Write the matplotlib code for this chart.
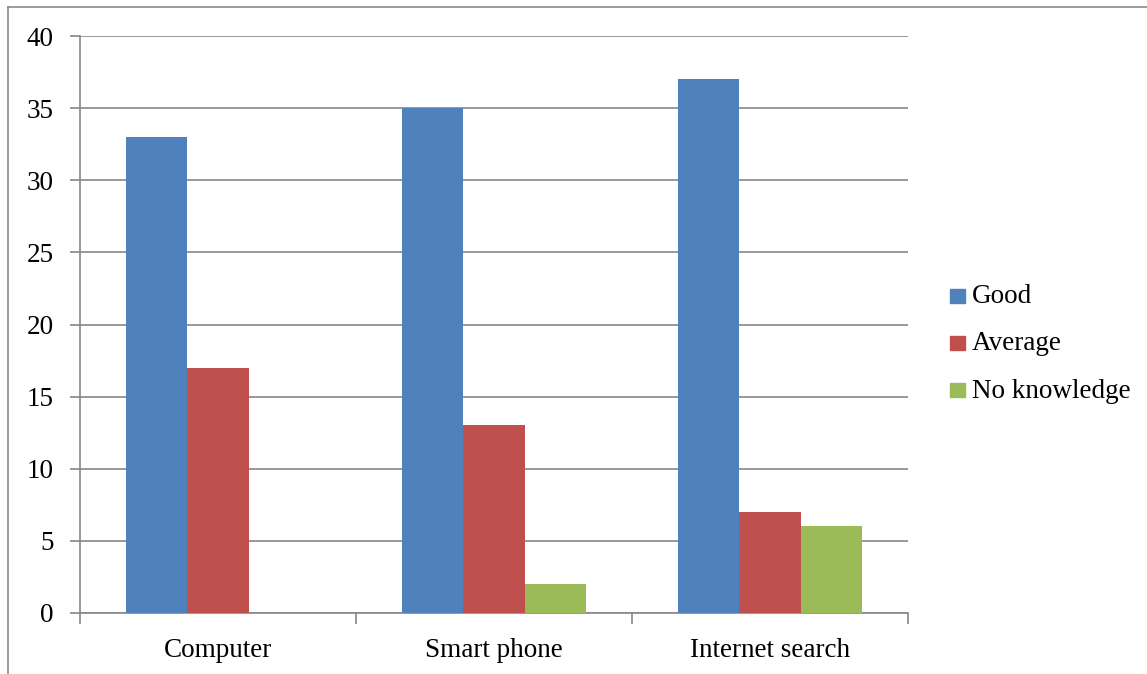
import matplotlib
matplotlib.use("Agg")
import matplotlib.pyplot as plt
from matplotlib.lines import Line2D
from matplotlib.patches import Rectangle
import numpy as np

categories = ["Computer", "Smart phone", "Internet search"]
series_names = ["Good", "Average", "No knowledge"]
good = [33, 35, 37]
average = [17, 13, 7]
no_knowledge = [0, 2, 6]
colors = ["#4F81BD", "#C0504D", "#9BBB59"]

plt.rcParams["font.family"] = ["Liberation Serif", "DejaVu Serif"]

fig = plt.figure(figsize=(11.47, 6.74), dpi=100)
W, H = 1147, 674
ax = fig.add_axes([80 / W, 1 - 613 / H, (908 - 80) / W, (613 - 36) / H])

grid_col = "#878787"
fs = 19.5
n = len(series_names)
bw = 1 / (n + 1.5)
x = np.arange(len(categories))
for i, (vals, name) in enumerate(zip([good, average, no_knowledge], series_names)):
    offs = (i - (n - 1) / 2) * bw
    ax.bar(x + offs, vals, width=bw, color=colors[i], label=name, zorder=3,
           linewidth=0)

ax.set_xlim(-0.5, len(categories) - 0.5)
ax.set_ylim(0, 40)
ax.set_yticks(range(0, 41, 5))
ax.yaxis.grid(True, color=grid_col, linewidth=1.2, zorder=0)
ax.set_axisbelow(True)

for s in ["top", "right"]:
    ax.spines[s].set_visible(False)
ax.spines["left"].set_color(grid_col)
ax.spines["bottom"].set_color(grid_col)
ax.spines["left"].set_linewidth(1.2)
ax.spines["bottom"].set_linewidth(1.2)

ax.tick_params(axis="y", length=7, width=1.2, color=grid_col, labelsize=fs,
               pad=12)
ax.set_xticks(x)
ax.set_xticklabels(categories, fontsize=fs)
ax.tick_params(axis="x", length=0, pad=18)
ax.set_xticks(np.arange(-0.5, len(categories)), minor=True)
ax.tick_params(axis="x", which="minor", length=8, width=1.2, color=grid_col)

# legend
for i, name in enumerate(series_names):
    yc = 297 + 47 * i
    fig.patches.append(Rectangle((950 / W, 1 - (yc + 6) / H), 15 / W, 14 / H,
                                 transform=fig.transFigure, color=colors[i]))
    fig.text(972 / W, 1 - yc / H, name, fontsize=fs, va="center", ha="left")

# outer frame
fig.lines.append(Line2D([8 / W, 1], [1 - 7 / H, 1 - 7 / H],
                        transform=fig.transFigure, color="#8a8a8a", lw=1.2))
fig.lines.append(Line2D([8 / W, 8 / W], [0, 1 - 7 / H],
                        transform=fig.transFigure, color="#8a8a8a", lw=1.2))

fig.savefig("out.png", dpi=100)
